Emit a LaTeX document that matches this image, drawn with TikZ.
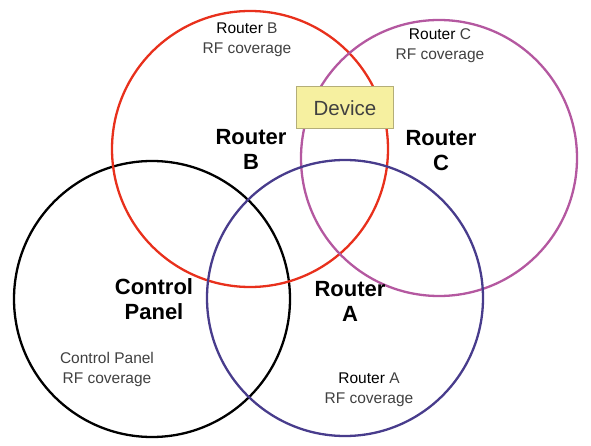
\documentclass[tikz,border=0pt]{standalone}
\usepackage{fontspec}
\setmainfont{Liberation Sans}
\usetikzlibrary{positioning}
\definecolor{redB}{RGB}{232,48,28}
\definecolor{pinkC}{RGB}{180,88,160}
\definecolor{blueA}{RGB}{72,60,140}
\definecolor{devfill}{RGB}{246,240,160}
\definecolor{devedge}{RGB}{180,174,120}
\definecolor{greytext}{RGB}{64,64,64}
\tikzset{
  coverage/.style={circle,draw,line width=2.3pt,inner sep=0pt,minimum size=276pt},
  unitlabel/.style={font=\fontsize{22}{25}\selectfont\bfseries,align=center,inner sep=0pt},
  rflabel/.style={font=\fontsize{15.5}{20}\selectfont,text=greytext,align=center,inner sep=0pt},
  devbox/.style={draw=devedge,fill=devfill,line width=1pt,minimum width=97pt,
    minimum height=42pt,text=greytext,font=\fontsize{20.5}{22}\selectfont}
}
\newcommand{\rtr}{\textcolor{black}{Router}}

\begin{document}
\begin{tikzpicture}[x=1pt,y=1pt]
\useasboundingbox (0,0) rectangle (591,-446);
% coverage circles
\node[coverage,draw=black] (panel) at (152,-299) {};
\node[coverage,draw=redB] (rb) at (250,-149) {};
\node[coverage,draw=pinkC] (rc) at (439,-158) {};
\node[coverage,draw=blueA] (ra) at (345,-298) {};
% device in the overlap of B and C
\node[devbox] (dev) at (345,-108) {Device};
% unit labels
\node[unitlabel] (lb) at (251,-149) {Router\\B};
\node[unitlabel] (lc) at (441,-151) {Router\\C};
\node[unitlabel] (lp) at (154,-299) {Control\\Panel};
\node[unitlabel] (la) at (350,-301) {Router\\A};
% coverage labels
\node[rflabel] (tb) at (247,-40) {\rtr{} B\\RF coverage};
\node[rflabel] (tc) at (440,-46) {\rtr{} C\\RF coverage};
\node[rflabel] (tp) at (107,-369) {Control Panel\\RF coverage};
\node[rflabel] (ta) at (369,-390) {\rtr{} A\\RF coverage};
\end{tikzpicture}
\end{document}
